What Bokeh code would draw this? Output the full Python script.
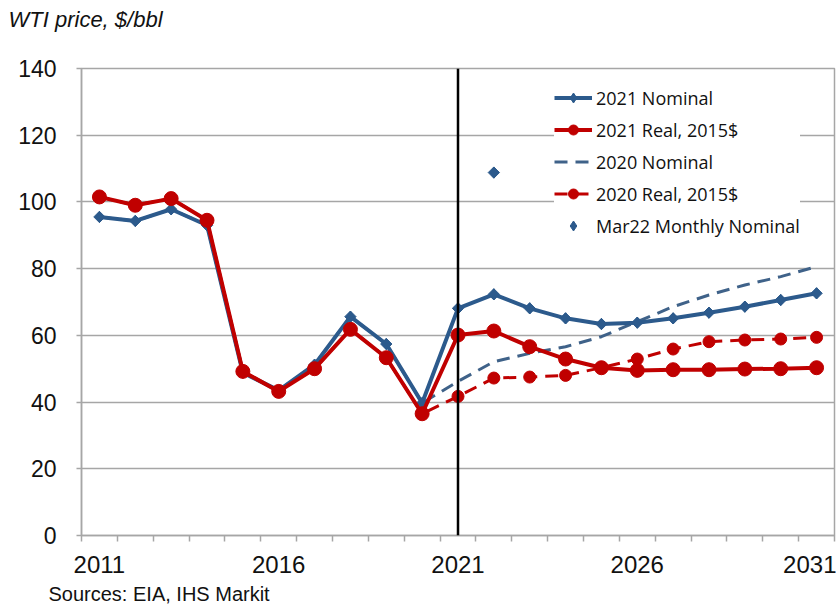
import math
from bokeh.plotting import figure
from bokeh.models import Span, Legend, LegendItem, FixedTicker, Title
from bokeh.embed import file_html
from bokeh.resources import INLINE

years = list(range(2011, 2032))
nominal_2021 = [95.5, 94.3, 97.8, 93.0, 48.8, 43.5, 51.2, 65.6, 57.4, 39.7,
                68.1, 72.3, 68.1, 65.1, 63.4, 63.8, 65.1, 66.8, 68.6, 70.6, 72.6]
real_2021 = [101.5, 99.0, 101.0, 94.5, 49.2, 43.2, 50.0, 61.8, 53.3, 36.5,
             60.1, 61.3, 56.6, 52.9, 50.3, 49.5, 49.7, 49.7, 49.9, 50.0, 50.3]
nominal_2020 = [95.5, 94.3, 97.8, 93.0, 48.8, 43.5, 51.2, 65.6, 57.4, 39.7,
                46.2, 52.1, 54.6, 56.6, 59.6, 64.1, 68.6, 72.1, 75.1, 77.6, 80.6]
real_2020 = [101.5, 99.0, 101.0, 94.5, 49.2, 43.2, 50.0, 61.8, 53.3, 36.5,
             41.7, 47.2, 47.5, 48.0, 50.3, 52.9, 55.9, 58.1, 58.6, 58.9, 59.4]
mar22_years = [2022]
mar22_values = [108.8]
x_tick_years = [2011, 2016, 2021, 2026, 2031]
y_ticks = [0, 20, 40, 60, 80, 100, 120, 140]

BLUE = "#2C5A8C"
BLUE_D = "#3F6289"
RED = "#C00000"
GRID = "#A6A6A6"
FONT = "Liberation Sans"

p = figure(width=836, height=604, x_range=(2010.5, 2031.5), y_range=(0, 140),
           output_backend="svg", toolbar_location=None,
           min_border_left=81, min_border_right=2, min_border_top=68, min_border_bottom=69)
p.background_fill_color = "white"
p.border_fill_color = "white"
p.outline_line_color = GRID
p.outline_line_width = 1.5

p.xgrid.grid_line_color = None
p.ygrid.grid_line_color = GRID
p.ygrid.grid_line_width = 1.5
p.ygrid.ticker = FixedTicker(ticks=y_ticks)

p.yaxis.ticker = FixedTicker(ticks=y_ticks)
p.yaxis.axis_line_color = GRID
p.yaxis.axis_line_width = 1.5
p.yaxis.major_tick_line_color = GRID
p.yaxis.major_tick_line_width = 1.5
p.yaxis.major_tick_out = 5
p.yaxis.major_tick_in = 0
p.yaxis.minor_tick_line_color = None
p.yaxis.major_label_standoff = 20
p.yaxis.major_label_text_font = FONT
p.yaxis.major_label_text_font_size = "23px"
p.yaxis.major_label_text_color = "#111111"

p.xaxis.ticker = FixedTicker(ticks=x_tick_years, minor_ticks=[y - 0.5 for y in years] + [2031.5])
p.xaxis.axis_line_color = GRID
p.xaxis.axis_line_width = 1.5
p.xaxis.major_tick_out = 0
p.xaxis.major_tick_in = 0
p.xaxis.minor_tick_out = 6
p.xaxis.minor_tick_in = 0
p.xaxis.minor_tick_line_color = GRID
p.xaxis.minor_tick_line_width = 1.5
p.xaxis.major_label_standoff = 14
p.xaxis.major_label_text_font = FONT
p.xaxis.major_label_text_font_size = "24px"
p.xaxis.major_label_text_color = "#111111"

# 2020 outlook (drawn underneath)
l_n20 = p.line(years, nominal_2020, line_color=BLUE_D, line_width=3, line_dash="13 8")
l_r20 = p.line(years, real_2020, line_color=RED, line_width=3, line_dash="13 8")
s_r20 = p.scatter(years, real_2020, marker="circle", size=12, fill_color=RED, line_color=RED)

# 2021 outlook
l_n21 = p.line(years, nominal_2021, line_color=BLUE, line_width=4)
k_n21 = p.scatter(years, nominal_2021, marker="diamond", size=11, fill_color=BLUE, line_color=BLUE)
s_n21 = p.scatter(years, nominal_2021, marker="square", angle=math.pi / 4, size=8,
                  fill_color=BLUE, line_color=BLUE)
l_r21 = p.line(years, real_2021, line_color=RED, line_width=4)
s_r21 = p.scatter(years, real_2021, marker="circle", size=14, fill_color=RED, line_color=RED)

k_m22 = p.scatter(mar22_years, mar22_values, marker="diamond", size=11, fill_color=BLUE, line_color=BLUE)
s_m22 = p.scatter(mar22_years, mar22_values, marker="square", angle=math.pi / 4, size=8,
                  fill_color=BLUE, line_color=BLUE)

p.add_layout(Span(location=2021, dimension="height", line_color="black", line_width=2.5))

legend = Legend(items=[
    LegendItem(label="2021 Nominal", renderers=[l_n21, k_n21]),
    LegendItem(label="2021 Real, 2015$", renderers=[l_r21, s_r21]),
    LegendItem(label="2020 Nominal", renderers=[l_n20]),
    LegendItem(label="2020 Real, 2015$", renderers=[l_r20, s_r20]),
    LegendItem(label="Mar22 Monthly Nominal", renderers=[k_m22]),
], location=(473, 297))
legend.border_line_color = None
legend.background_fill_color = "white"
legend.background_fill_alpha = 1
legend.padding = 5
legend.margin = 0
legend.spacing = 7
legend.glyph_width = 38
legend.glyph_height = 25
legend.label_height = 25
legend.label_standoff = 4
legend.label_text_font = "Open Sans"
legend.label_text_font_size = "18px"
legend.label_text_color = "#111111"
p.add_layout(legend)

# top: spacer next to the frame, then the title
p.add_layout(Title(text=" ", text_font_size="1px", standoff=32), "above")
title = Title(text="WTI price, $/bbl", align="left", offset=-73, standoff=4,
              text_font=FONT, text_font_style="italic", text_font_size="22px",
              text_color="#111111")
p.add_layout(title, "above")

# bottom: axis, small spacer, then the source note
p.add_layout(Title(text=" ", text_font_size="1px", standoff=2), "below")
src = Title(text="Sources: EIA, IHS Markit", align="left", offset=-33, standoff=0,
            text_font=FONT, text_font_style="normal", text_font_size="20px",
            text_color="#111111")
p.add_layout(src, "below")

open("out.html", "w").write(file_html(p, INLINE))
